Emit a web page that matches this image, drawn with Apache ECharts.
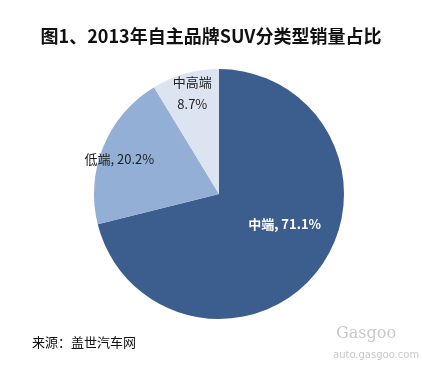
<!DOCTYPE html>
<html><head><meta charset="utf-8">
<script src="https://cdn.jsdelivr.net/npm/echarts@6/dist/echarts.min.js"></script>
<style>html,body{margin:0;padding:0;background:#fff}#c{width:422px;height:365px}</style>
</head><body><div id="c"></div>
<script>
const categories = ['中端', '低端', '中高端'];
const values = [71.1, 20.2, 8.7];
const colors = ['#3B5E8F', '#94AFD5', '#DCE4F1'];
const titleText = '图1、2013年自主品牌SUV分类型销量占比';
const sourceText = '来源：盖世汽车网';

const labelCfg = [
  {color:'#fff', fontWeight:'bold', offset:[14,-10], fmt: (n,v)=> n + ', ' + v.toFixed(1) + '%'},
  {color:'#222', fontWeight:'normal', offset:[-39,-10], fmt: (n,v)=> n + ', ' + v.toFixed(1) + '%'},
  {color:'#222', fontWeight:'normal', offset:[-9,-38], fmt: (n,v)=> n + '\n' + v.toFixed(1) + '%'}
];

const data = categories.map((n,i)=>({
  name:n, value:values[i], itemStyle:{color:colors[i]},
  label:{show:true, position:'inside', color:labelCfg[i].color, fontWeight:labelCfg[i].fontWeight,
    offset:labelCfg[i].offset, formatter: labelCfg[i].fmt(n, values[i]), lineHeight:22}
}));

const chart = echarts.init(document.getElementById('c'));
chart.setOption({
  backgroundColor:'#fff',
  animation:false,
  title:{text:titleText, left:'center', top:22,
    textStyle:{fontFamily:'Noto Sans CJK SC', fontSize:18, fontWeight:'bold', color:'#111'}},
  series:[{
    type:'pie', center:[219,194], radius:[0,125], startAngle:90, clockwise:true,
    label:{fontFamily:'Noto Sans CJK SC', fontSize:13},
    labelLine:{show:false},
    itemStyle:{borderWidth:0},
    data:data
  }],
  graphic:[
    {type:'text', left:32, top:336, style:{text:sourceText, fontFamily:'Noto Sans CJK SC', fontSize:13, fill:'#111'}},
    {type:'text', left:336, top:326, style:{text:'Gasgoo', fontFamily:'DejaVu Serif', fontSize:16, fill:'#c8c8c8'}},
    {type:'text', left:333, top:350, style:{text:'auto.gasgoo.com', fontFamily:'DejaVu Sans', fontSize:10, fill:'#c8c8c8'}}
  ]
});
</script></body></html>
